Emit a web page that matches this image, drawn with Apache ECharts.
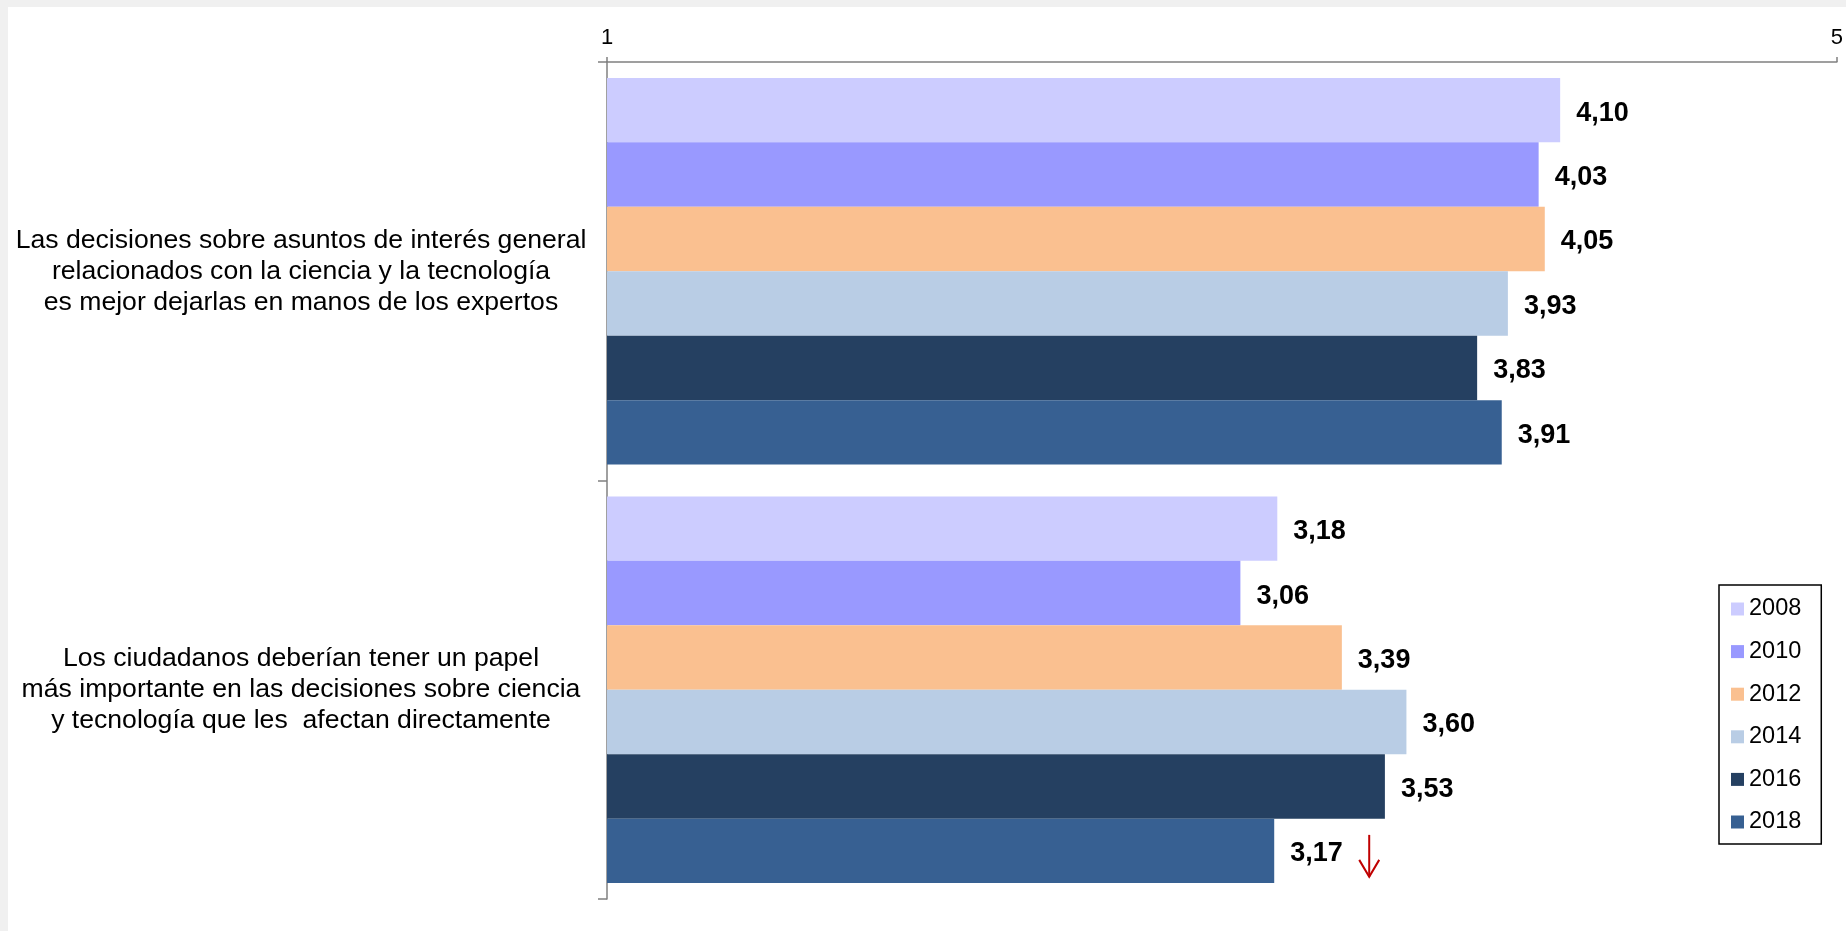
<!DOCTYPE html>
<html>
<head>
<meta charset="utf-8">
<script src="https://cdn.jsdelivr.net/npm/echarts@6/dist/echarts.min.js"></script>
<style>
  html, body { margin: 0; padding: 0; background: #f0f0f0; width: 1846px; height: 931px; overflow: hidden; }
  #chart { position: absolute; left: 8px; top: 7px; width: 1838px; height: 924px; background: #ffffff; }
</style>
</head>
<body>
<div id="chart"></div>
<script>
// ---- data ----
const categories = [
  'Las decisiones sobre asuntos de interés general\nrelacionados con la ciencia y la tecnología\nes mejor dejarlas en manos de los expertos',
  'Los ciudadanos deberían tener un papel\nmás importante en las decisiones sobre ciencia\ny tecnología que les  afectan directamente'
];
const years = ['2008', '2010', '2012', '2014', '2016', '2018'];
const v2008 = [4.10, 3.18];
const v2010 = [4.03, 3.06];
const v2012 = [4.05, 3.39];
const v2014 = [3.93, 3.60];
const v2016 = [3.83, 3.53];
const v2018 = [3.91, 3.17];
const xTicks = [1, 5];
const colors = ['#CCCCFF', '#9999FF', '#FAC090', '#B9CDE5', '#254061', '#376092'];

const seriesValues = [v2008, v2010, v2012, v2014, v2016, v2018];
const FONT = "'Liberation Sans', Arial, sans-serif";

const chart = echarts.init(document.getElementById('chart'), null, { renderer: 'canvas' });

const series = years.map((y, i) => ({
  name: y,
  type: 'bar',
  data: seriesValues[i],
  barGap: '0%',
  barCategoryGap: '7.6%',
  itemStyle: { color: colors[i] },
  label: {
    show: true,
    position: 'right',
    distance: 16,
    offset: [0, 3],
    fontFamily: FONT,
    fontSize: 27,
    fontWeight: 'bold',
    color: '#000',
    formatter: p => p.value.toFixed(2).replace('.', ',')
  },
  emphasis: { disabled: true },
  animation: false
}));

chart.setOption({
  animation: false,
  backgroundColor: '#ffffff',
  textStyle: { fontFamily: FONT },
  grid: { left: 599, right: 8, top: 55, bottom: 32, containLabel: false },
  legend: {
    orient: 'vertical',
    left: 1711,
    top: 578,
    data: years,
    icon: 'rect',
    itemWidth: 13,
    itemHeight: 13,
    itemGap: 18.6,
    padding: [12, 20, 10, 12],
    borderColor: '#000',
    borderWidth: 1.5,
    selectedMode: false,
    textStyle: { fontFamily: FONT, fontSize: 23.5, color: '#000' }
  },
  xAxis: {
    type: 'value',
    position: 'top',
    min: xTicks[0],
    max: xTicks[1],
    interval: xTicks[1] - xTicks[0],
    axisLine: { show: true, lineStyle: { color: '#808080', width: 1.5 } },
    axisTick: { show: true, length: 5, lineStyle: { color: '#808080', width: 1.5 } },
    splitLine: { show: false },
    axisLabel: { fontFamily: FONT, fontSize: 22, color: '#000', margin: 13 }
  },
  yAxis: {
    type: 'category',
    inverse: true,
    data: categories,
    axisLine: { show: true, lineStyle: { color: '#808080', width: 1.5 } },
    axisTick: { show: true, length: 9, interval: 0, lineStyle: { color: '#808080', width: 1.5 } },
    axisLabel: {
      interval: 0,
      align: 'center',
      margin: 306,
      fontFamily: FONT,
      fontSize: 26.6,
      lineHeight: 31,
      padding: [3, 0, 0, 0],
      color: '#000'
    }
  },
  series: series
});

// red downward arrow next to the 2018 value of the second statement
(function drawArrow() {
  let xEnd, yc;
  try {
    const layout = chart.getModel().getSeriesByIndex(5).getData().getItemLayout(1);
    xEnd = layout.x + layout.width;
    yc = layout.y + layout.height / 2;
  } catch (e) {
    const p = chart.convertToPixel({ gridIndex: 0 }, [v2018[1], 1]);
    xEnd = p[0]; yc = p[1] + 161;
  }
  const ax = xEnd + 95, ay = yc + 5;
  chart.setOption({
    graphic: [{
      type: 'group',
      silent: true,
      children: [
        { type: 'line', shape: { x1: ax, y1: ay - 21, x2: ax, y2: ay + 21 },
          style: { stroke: '#C00000', lineWidth: 2 } },
        { type: 'polyline', shape: { points: [[ax - 10, ay + 4], [ax, ay + 21], [ax + 10, ay + 4]] },
          style: { stroke: '#C00000', lineWidth: 2, fill: null } }
      ]
    }]
  });
})();
</script>
</body>
</html>
